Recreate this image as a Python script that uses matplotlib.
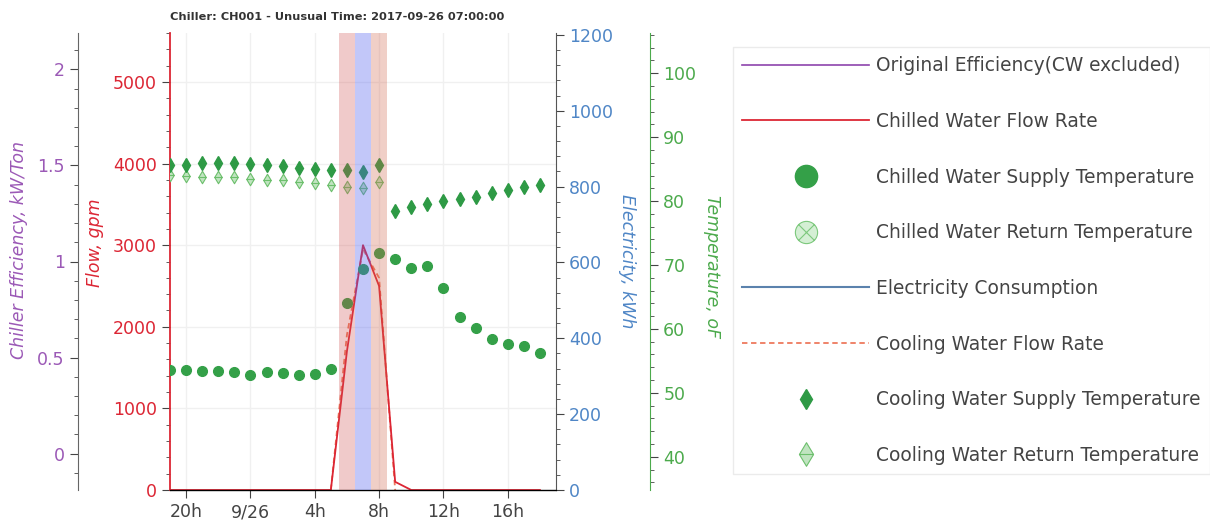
import numpy as np
import pandas as pd
import matplotlib
matplotlib.use("Agg")
import matplotlib.pyplot as plt
import matplotlib.dates as mdates
from matplotlib.lines import Line2D
from matplotlib.path import Path
from matplotlib.ticker import MultipleLocator, FixedLocator

# hourly readings, 2017-09-25 19:00 .. 2017-09-26 18:00
hours = pd.date_range("2017-09-25 19:00", periods=24, freq="h")

chw_flow = [0, 0, 0, 0, 0, 0, 0, 0, 0, 0,
            0, 1700, 3000, 2500, 100, 0,
            0, 0, 0, 0, 0, 0, 0, 0]
cw_flow = [np.nan] * 10 + [0, 1900, 2950, 2600, 0] + [np.nan] * 9
efficiency = [np.nan] * 24
electricity = [np.nan] * 24

chw_supply = [53.6, 53.6, 53.4, 53.4, 53.2, 52.8, 53.2, 53.1, 52.8, 52.9,
              53.8, 64.0, 69.3, 71.9, 70.9, 69.5, 69.8, 66.4, 61.9, 60.1,
              58.5, 57.7, 57.3, 56.2]
chw_return = [np.nan] * 24
cw_supply = [85.6, 85.7, 85.9, 85.9, 85.9, 85.8, 85.6, 85.5, 85.2, 85.1,
             84.8, 84.9, 84.5, 85.6, 78.5, 79.1, 79.5, 80.0, 80.4, 80.7,
             81.2, 81.7, 82.2, 82.5]
cw_return = [84.1, 84.0, 83.8, 83.8, 83.8, 83.5, 83.3, 83.3, 83.0, 82.9,
             82.5, 82.2, 82.0, 83.0] + [np.nan] * 10

tick_hours = ["2017-09-25 20:00", "2017-09-26 00:00", "2017-09-26 04:00",
              "2017-09-26 08:00", "2017-09-26 12:00", "2017-09-26 16:00"]
tick_labels = ["20h", "9/26", "4h", "8h", "12h", "16h"]

# flagged window around the unusual reading
window_edges = ["2017-09-26 05:30", "2017-09-26 06:30", "2017-09-26 07:30", "2017-09-26 08:30"]

x = mdates.date2num(hours.to_pydatetime())
edges = mdates.date2num(pd.to_datetime(window_edges).to_pydatetime())

FS = 12.5
PURPLE = "#9b59b6"
RED = "#dc2634"
BLUE = "#4f86c6"
GREEN = "#4caa4c"
DARK = "#444444"

fig = plt.figure(figsize=(12.1, 5.25), dpi=100)
ax = fig.add_axes([170 / 1210, 35 / 525, 386 / 1210, 457 / 525])
ax_eff = ax.twinx()
ax_kwh = ax.twinx()
ax_temp = ax.twinx()

for a in (ax, ax_eff, ax_kwh, ax_temp):
    a.spines["top"].set_visible(False)
    a.patch.set_visible(False)
ax.patch.set_visible(True)

# flow axis (left, red)
ax.spines["right"].set_visible(False)
ax.spines["left"].set_color(RED)
ax.spines["left"].set_linewidth(1.3)
ax.spines["bottom"].set_color("#555555")
ax.set_ylim(0, 5600)
ax.yaxis.set_major_locator(MultipleLocator(1000))
ax.yaxis.set_minor_locator(MultipleLocator(200))
ax.tick_params(axis="y", colors=DARK, labelcolor=RED, labelsize=FS, length=6, direction="out")
ax.tick_params(axis="y", which="minor", colors=DARK, length=3)
ax.set_ylabel("Flow, gpm", color=RED, fontsize=FS, style="italic")
ax.yaxis.set_label_coords(-0.194, 0.54)
ax.yaxis.label.set_va("center")

ax.set_xlim(mdates.date2num(pd.Timestamp("2017-09-25 19:00")),
            mdates.date2num(pd.Timestamp("2017-09-26 19:00")))
ax.xaxis.set_major_locator(FixedLocator(mdates.date2num(pd.to_datetime(tick_hours).to_pydatetime())))
ax.set_xticklabels(tick_labels)
ax.tick_params(axis="x", colors=DARK, labelsize=FS, length=6, direction="out")
ax.grid(True, color="#f0f0f0", linewidth=1)
ax.set_axisbelow(True)

# efficiency axis, pushed out on the left (offsets are in points)
ax_eff.yaxis.tick_left()
ax_eff.yaxis.set_label_position("left")
ax_eff.spines["right"].set_visible(False)
ax_eff.spines["left"].set_visible(True)
ax_eff.spines["left"].set_position(("outward", 66.2))
ax_eff.spines["left"].set_color("#666666")
ax_eff.set_ylim(-0.19, 2.19)
ax_eff.yaxis.set_major_locator(FixedLocator([0, 0.5, 1, 1.5, 2]))
ax_eff.set_yticklabels(["0", "0.5", "1", "1.5", "2"])
ax_eff.yaxis.set_minor_locator(MultipleLocator(0.1))
ax_eff.tick_params(axis="y", colors=DARK, labelcolor=PURPLE, labelsize=FS, length=6)
ax_eff.tick_params(axis="y", which="minor", colors=DARK, length=3)
ax_eff.set_ylabel("Chiller Efficiency, kW/Ton", color=PURPLE, fontsize=FS, style="italic")
ax_eff.yaxis.set_label_coords(-0.392, 0.525)
ax_eff.yaxis.label.set_va("center")

# electricity axis (right)
ax_kwh.spines["left"].set_visible(False)
ax_kwh.spines["right"].set_color("#555555")
ax_kwh.set_ylim(0, 1205)
ax_kwh.yaxis.set_major_locator(MultipleLocator(200))
ax_kwh.yaxis.set_minor_locator(MultipleLocator(40))
ax_kwh.tick_params(axis="y", colors=DARK, labelcolor=BLUE, labelsize=FS, length=6)
ax_kwh.tick_params(axis="y", which="minor", colors=DARK, length=3)
ax_kwh.set_ylabel("Electricity, kWh", color=BLUE, fontsize=FS, style="italic", rotation=-90)
ax_kwh.yaxis.set_label_coords(1.184, 0.5)
ax_kwh.yaxis.label.set_va("center")

# temperature axis, pushed out on the right
ax_temp.spines["left"].set_visible(False)
ax_temp.spines["right"].set_position(("outward", 67.7))
ax_temp.spines["right"].set_color(GREEN)
ax_temp.set_ylim(34.8, 106.3)
ax_temp.yaxis.set_major_locator(MultipleLocator(10))
ax_temp.yaxis.set_minor_locator(MultipleLocator(2))
ax_temp.tick_params(axis="y", colors=DARK, labelcolor=GREEN, labelsize=FS, length=6)
ax_temp.tick_params(axis="y", which="minor", colors=DARK, length=3)
ax_temp.set_ylabel("Temperature, oF", color=GREEN, fontsize=FS, style="italic", rotation=-90)
ax_temp.yaxis.set_label_coords(1.404, 0.49)
ax_temp.yaxis.label.set_va("center")

# custom markers: circle with x, diamond with bar
circle_x = Path.make_compound_path(
    Path.unit_circle(),
    Path([(-0.7, -0.7), (0.7, 0.7)]),
    Path([(-0.7, 0.7), (0.7, -0.7)]))
diamond_bar = Path.make_compound_path(
    Path([(0, 1), (0.6, 0), (0, -1), (-0.6, 0), (0, 1)], closed=True),
    Path([(-0.6, 0), (0.6, 0)]))

eff_style = dict(color="#8e44ad", lw=1.2)
chw_flow_style = dict(color=RED, lw=1.3)
cw_flow_style = dict(color="#ee7a5e", lw=1.3, ls=(0, (3, 2)))
kwh_style = dict(color="#5b82ad", lw=1.5)
chw_sup_style = dict(ls="none", marker="o", color="#34a048")
chw_ret_style = dict(ls="none", marker=circle_x, mfc="#d4efd4", mec="#7cc87c", mew=0.8)
cw_sup_style = dict(ls="none", marker="d", color="#2e9a45")
cw_ret_style = dict(ls="none", marker=diamond_bar, mfc="#c0e4c0", mec="#6cbf6c", mew=0.8)

ax_eff.plot(x, efficiency, **eff_style)
ax.plot(x, cw_flow, zorder=2, **cw_flow_style)
ax.plot(x, chw_flow, zorder=3, **chw_flow_style)
ax_kwh.plot(x, electricity, **kwh_style)

ax_temp.plot(x, cw_return, ms=9, zorder=2, **cw_ret_style)
ax_temp.plot(x, cw_supply, ms=6.8, zorder=2, **cw_sup_style)
ax_temp.plot(x, chw_return, ms=8, zorder=2, **chw_ret_style)
ax_temp.plot(x, chw_supply, ms=7, zorder=2, **chw_sup_style)

# highlight bands drawn over the markers
ax_temp.axvspan(edges[0], edges[1], color="#d05050", alpha=0.3, lw=0, zorder=4)
ax_temp.axvspan(edges[1], edges[2], color="#5060f0", alpha=0.35, lw=0, zorder=4)
ax_temp.axvspan(edges[2], edges[3], color="#d06048", alpha=0.3, lw=0, zorder=4)

fig.text(170 / 1210, 1 - 17 / 525, "Chiller: CH001 - Unusual Time: 2017-09-26 07:00:00",
         fontsize=8.2, fontweight="bold", color="#333333", va="center")

# legend entries with larger glyphs than the plotted markers
handles = [Line2D([], [], **eff_style),
           Line2D([], [], **chw_flow_style),
           Line2D([], [], ms=16, **chw_sup_style),
           Line2D([], [], ms=16, **chw_ret_style),
           Line2D([], [], **kwh_style),
           Line2D([], [], **cw_flow_style),
           Line2D([], [], ms=10.5, **cw_sup_style),
           Line2D([], [], ms=17, **cw_ret_style)]
labels = ["Original Efficiency(CW excluded)", "Chilled Water Flow Rate",
          "Chilled Water Supply Temperature", "Chilled Water Return Temperature",
          "Electricity Consumption", "Cooling Water Flow Rate",
          "Cooling Water Supply Temperature", "Cooling Water Return Temperature"]
LFS = 13.4
fig.legend(handles, labels, loc="upper left", bbox_to_anchor=(733 / 1210, 1 - 47 / 525),
           fontsize=LFS, handlelength=6.8, handletextpad=0.38, labelspacing=1.97,
           borderpad=0.5, borderaxespad=0, frameon=True, fancybox=False,
           edgecolor="#e6e6e6", labelcolor="#444444")

fig.savefig("out.png", dpi=100)
